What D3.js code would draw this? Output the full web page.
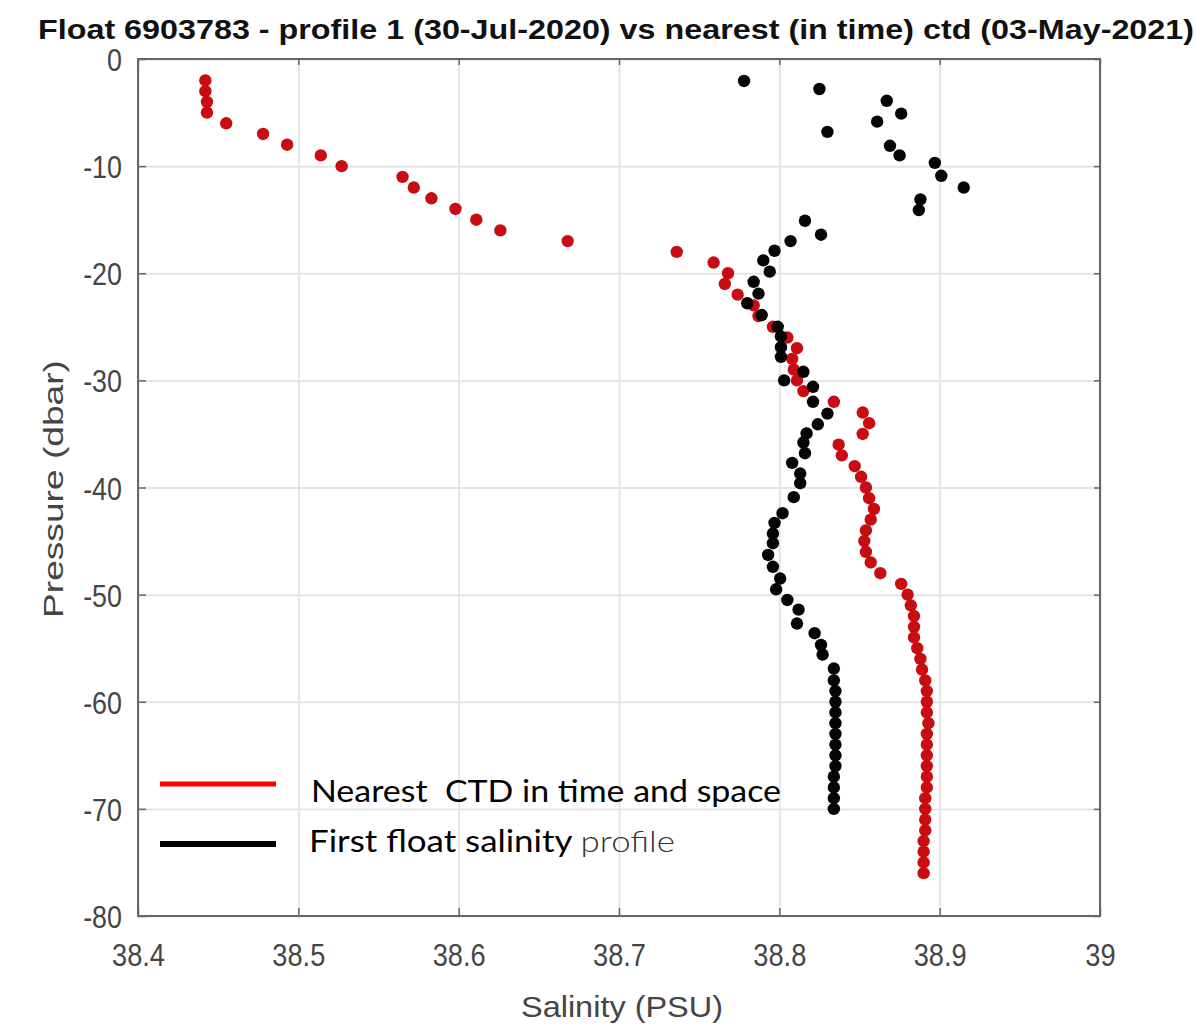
<!DOCTYPE html>
<html>
<head>
<meta charset="utf-8">
<script src="https://cdn.jsdelivr.net/npm/d3@7"></script>
<style>
  html, body { margin: 0; padding: 0; background: #fff; }
  svg { display: block; }
</style>
</head>
<body>
<div id="chart"></div>
<script>
const width = 1204;
const height = 1026;
const plot = { left: 138, right: 1100, top: 59, bottom: 916 };

const titleText = "Float 6903783 - profile 1 (30-Jul-2020) vs nearest (in time) ctd (03-May-2021)";
const xTicks = [38.4, 38.5, 38.6, 38.7, 38.8, 38.9, 39];
const yTicks = [0, -10, -20, -30, -40, -50, -60, -70, -80];

// nearest CTD (red)
const ctdPressure = [
  -2, -3, -4, -5, -6, -7, -8, -9, -10, -11, -12, -13, -14, -15, -16, -17, -18, -19, -20,
  -21, -22, -23, -24, -25, -26, -27, -28, -29, -30, -31, -32, -33, -34, -35, -36, -37, -38,
  -39, -40, -41, -42, -43, -44, -45, -46, -47, -48, -49, -50, -51, -52, -53, -54, -55, -56,
  -57, -58, -59, -60, -61, -62, -63, -64, -65, -66, -67, -68, -69, -70, -71, -72, -73, -74,
  -75, -76
];
const ctdSalinity = [
  38.442, 38.442, 38.443, 38.443, 38.455, 38.478, 38.493, 38.514, 38.527, 38.565, 38.572,
  38.583, 38.598, 38.611, 38.626, 38.668, 38.736, 38.759, 38.768,
  38.766, 38.774, 38.784, 38.787, 38.796, 38.805, 38.811, 38.808, 38.809, 38.811, 38.815,
  38.834, 38.852, 38.856, 38.852, 38.837, 38.839, 38.847,
  38.851, 38.854, 38.856, 38.859, 38.857, 38.854, 38.853, 38.854, 38.857, 38.863, 38.876,
  38.880, 38.882, 38.884, 38.884, 38.884, 38.886, 38.888,
  38.889, 38.891, 38.892, 38.892, 38.892, 38.893, 38.892, 38.892, 38.892, 38.892, 38.892,
  38.892, 38.891, 38.891, 38.891, 38.891, 38.890, 38.890,
  38.890, 38.890
];

// first float profile (black)
const floatPressure = [
  -2.05, -2.8, -3.9, -5.1, -5.85, -6.8, -8.1, -9.0, -9.7, -10.9, -12.0, -13.1, -14.1,
  -15.1, -16.4, -17.0, -17.9, -18.8, -19.85, -20.8, -21.9, -22.8, -23.9, -25.0, -25.9,
  -26.9, -27.8, -29.2, -30.0, -30.6, -32.0, -33.1, -34.1, -34.95, -35.8, -36.8, -37.7,
  -38.7, -39.6, -40.9, -42.4, -43.3, -44.3, -45.2, -46.3, -47.4, -48.5, -49.5, -50.5,
  -51.4, -52.7, -53.6, -54.7, -55.6, -56.9, -58, -59, -60, -61, -62, -63, -64, -65, -66,
  -67, -68, -69, -70
];
const floatSalinity = [
  38.778, 38.825, 38.867, 38.876, 38.861, 38.830, 38.869, 38.875, 38.897, 38.901, 38.915,
  38.888, 38.887, 38.816, 38.826, 38.807, 38.797, 38.790, 38.794, 38.784, 38.787, 38.780,
  38.789, 38.799, 38.801, 38.801, 38.801, 38.815, 38.803, 38.821, 38.821, 38.830, 38.824,
  38.817, 38.815, 38.816, 38.808, 38.813, 38.813, 38.809, 38.802, 38.797, 38.796, 38.796,
  38.793, 38.796, 38.8005, 38.798, 38.805, 38.812, 38.811, 38.822, 38.826, 38.827, 38.834,
  38.834, 38.835, 38.835, 38.835, 38.835, 38.835, 38.835, 38.835, 38.835, 38.834, 38.834,
  38.834, 38.834
];

const legendLabels = ["Nearest  CTD in time and space", "First float salinity"];

const tickFont = "'Liberation Sans', Arial, Helvetica, sans-serif";

const svg = d3.select("#chart")
  .append("svg")
  .attr("width", width)
  .attr("height", height);

svg.append("rect").attr("width", width).attr("height", height).attr("fill", "#fff");

const x = d3.scaleLinear().domain([38.4, 39]).range([plot.left, plot.right]);
const y = d3.scaleLinear().domain([0, -80]).range([plot.top, plot.bottom]);

// grid
svg.append("g")
  .attr("transform", `translate(0,${plot.bottom})`)
  .call(d3.axisBottom(x).tickValues(xTicks).tickSize(-(plot.bottom - plot.top)).tickFormat(""))
  .call((g) => g.select(".domain").remove())
  .call((g) => g.selectAll("line").attr("stroke", "#e4e4e4").attr("stroke-width", 2));
svg.append("g")
  .attr("transform", `translate(${plot.left},0)`)
  .call(d3.axisLeft(y).tickValues(yTicks).tickSize(-(plot.right - plot.left)).tickFormat(""))
  .call((g) => g.select(".domain").remove())
  .call((g) => g.selectAll("line").attr("stroke", "#e4e4e4").attr("stroke-width", 2));

// data points
svg.append("g")
  .selectAll("circle")
  .data(ctdPressure.map((p, i) => [ctdSalinity[i], p]))
  .join("circle")
  .attr("cx", (d) => x(d[0]))
  .attr("cy", (d) => y(d[1]))
  .attr("r", 6.2)
  .attr("fill", "#c80c12");

svg.append("g")
  .selectAll("circle")
  .data(floatPressure.map((p, i) => [floatSalinity[i], p]))
  .join("circle")
  .attr("cx", (d) => x(d[0]))
  .attr("cy", (d) => y(d[1]))
  .attr("r", 6.2)
  .attr("fill", "#050505");

// axes with inward ticks
const styleAxis = (g) => {
  g.select(".domain").remove();
  g.selectAll("line").attr("stroke", "#666").attr("stroke-width", 1.5);
  g.selectAll("text")
    .attr("fill", "#454545")
    .style("font-family", tickFont)
    .style("font-size", "32px");
};

svg.append("g")
  .attr("transform", `translate(0,${plot.bottom})`)
  .call(d3.axisBottom(x).tickValues(xTicks).tickSize(-8).tickPadding(27).tickFormat(d3.format("~g")))
  .call(styleAxis)
  .call((g) => g.selectAll("text").attr("transform", "scale(0.85,1)"));

svg.append("g")
  .attr("transform", `translate(${plot.left},0)`)
  .call(d3.axisLeft(y).tickValues(yTicks).tickSize(-8).tickFormat((d) => `${d}`))
  .call(styleAxis)
  .call((g) => g.selectAll("text").attr("x", -16 / 0.84).attr("dy", "0.36em").attr("transform", "scale(0.84,1)"));

svg.append("g")
  .attr("transform", `translate(0,${plot.top})`)
  .call(d3.axisTop(x).tickValues(xTicks).tickSize(-6).tickFormat(""))
  .call(styleAxis);

svg.append("g")
  .attr("transform", `translate(${plot.right},0)`)
  .call(d3.axisRight(y).tickValues(yTicks).tickSize(-6).tickFormat(""))
  .call(styleAxis);

// box
svg.append("rect")
  .attr("x", plot.left)
  .attr("y", plot.top)
  .attr("width", plot.right - plot.left)
  .attr("height", plot.bottom - plot.top)
  .attr("fill", "none")
  .attr("stroke", "#666")
  .attr("stroke-width", 2);

// title
svg.append("text")
  .attr("x", 38)
  .attr("y", 39)
  .attr("textLength", 1156)
  .attr("lengthAdjust", "spacingAndGlyphs")
  .style("font-family", tickFont)
  .style("font-size", "27px")
  .style("font-weight", "bold")
  .attr("fill", "#111")
  .text(titleText);

// axis labels
svg.append("text")
  .attr("x", 622)
  .attr("y", 1017)
  .attr("text-anchor", "middle")
  .attr("textLength", 202)
  .attr("lengthAdjust", "spacingAndGlyphs")
  .style("font-family", tickFont)
  .style("font-size", "30px")
  .attr("fill", "#454545")
  .text("Salinity (PSU)");

svg.append("text")
  .attr("transform", "translate(63,489) rotate(-90)")
  .attr("text-anchor", "middle")
  .attr("textLength", 258)
  .attr("lengthAdjust", "spacingAndGlyphs")
  .style("font-family", tickFont)
  .style("font-size", "28px")
  .attr("fill", "#454545")
  .text("Pressure (dbar)");

// legend
const legend = svg.append("g");
legend.append("line")
  .attr("x1", 160).attr("x2", 276).attr("y1", 784).attr("y2", 784)
  .attr("stroke", "#ff0000").attr("stroke-width", 5);
legend.append("line")
  .attr("x1", 160).attr("x2", 276).attr("y1", 844).attr("y2", 844)
  .attr("stroke", "#000").attr("stroke-width", 6);

legend.append("text")
  .attr("x", 311)
  .attr("y", 802)
  .attr("textLength", 470)
  .attr("lengthAdjust", "spacingAndGlyphs")
  .style("font-family", "Lato, 'Open Sans', sans-serif")
  .style("font-size", "30px")
  .style("white-space", "pre")
  .attr("fill", "#000")
  .text(legendLabels[0]);

const l2 = legend.append("text")
  .attr("x", 309)
  .attr("y", 852)
  .attr("textLength", 366)
  .attr("lengthAdjust", "spacingAndGlyphs")
  .style("font-family", "Lato, 'Open Sans', sans-serif")
  .style("font-size", "30px")
  .attr("fill", "#000");
l2.append("tspan").text(legendLabels[1] + " ");
l2.append("tspan").attr("fill", "#333").style("font-weight", 300).text("profile");
</script>
</body>
</html>
